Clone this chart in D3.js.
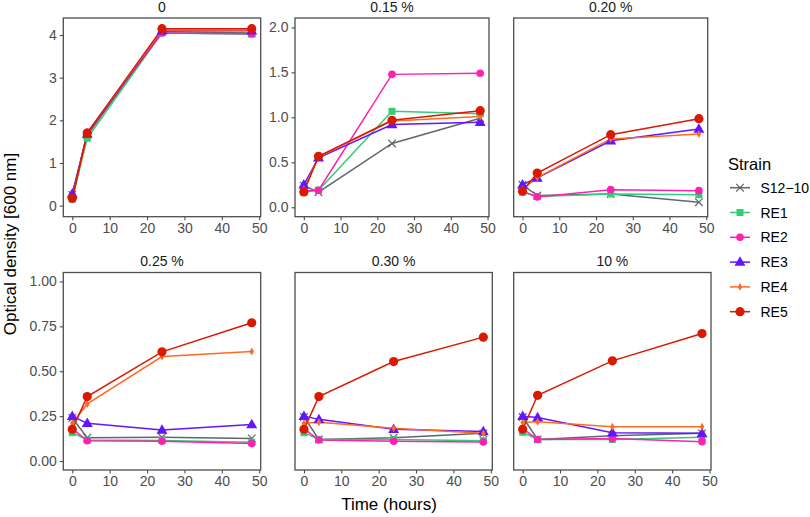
<!DOCTYPE html>
<html><head><meta charset="utf-8">
<script src="https://cdn.jsdelivr.net/npm/d3@7"></script>
<style>body{margin:0;background:#fff}svg{display:block}text{font-family:"Liberation Sans",Arial,sans-serif}</style>
</head><body>
<svg id="c" width="810" height="517"></svg>
<script>
const times = [0, 4, 24, 48];
const strains = ["S12\u221210", "RE1", "RE2", "RE3", "RE4", "RE5"];
const colors = ["#5f6868", "#33cc77", "#ff1fb0", "#6315ff", "#ff6a22", "#d91a00"];
const conditions = ["0", "0.15 %", "0.20 %", "0.25 %", "0.30 %", "10 %"];
// values per strain (rows: S12-10, RE1..RE5), columns: times
const od_0    = [[0.25,1.65,4.08,4.05],[0.15,1.58,4.05,4.02],[0.18,1.72,4.05,4.03],[0.28,1.68,4.10,4.10],[0.17,1.70,4.12,4.12],[0.17,1.70,4.15,4.15]];
const od_0_15 = [[0.24,0.167,0.71,0.99],[0.17,0.19,1.067,1.04],[0.18,0.19,1.478,1.49],[0.25,0.55,0.92,0.945],[0.20,0.56,0.96,1.01],[0.17,0.567,0.967,1.074]];
const od_0_20 = [[0.25,0.13,0.148,0.056],[0.17,0.12,0.148,0.14],[0.18,0.115,0.196,0.185],[0.25,0.326,0.74,0.87],[0.20,0.33,0.76,0.815],[0.178,0.38,0.807,0.985]];
const od_0_25 = [[0.24,0.13,0.132,0.126],[0.158,0.117,0.115,0.105],[0.18,0.113,0.11,0.098],[0.25,0.21,0.173,0.204],[0.21,0.318,0.582,0.61],[0.177,0.359,0.608,0.77]];
const od_0_30 = [[0.245,0.12,0.13,0.154],[0.158,0.12,0.12,0.113],[0.18,0.117,0.11,0.106],[0.25,0.232,0.177,0.164],[0.21,0.216,0.182,0.154],[0.177,0.359,0.554,0.69]];
const od_10   = [[0.245,0.12,0.141,0.154],[0.16,0.12,0.12,0.132],[0.18,0.12,0.125,0.108],[0.25,0.242,0.158,0.154],[0.214,0.219,0.191,0.191],[0.177,0.366,0.558,0.71]];
const seriesByCondition = [od_0, od_0_15, od_0_20, od_0_25, od_0_30, od_10];
const xTicks = [0, 10, 20, 30, 40, 50];
const yTicksTop1 = [0, 1, 2, 3, 4];
const yTicksTop = [0, 0.5, 1.0, 1.5, 2.0];
const yTicksBottom = [0, 0.25, 0.5, 0.75, 1.0];

const svg = d3.select("#c");
const panels = [
  {x0:63.3, x1:260.7, y0:18, y1:216.7, yd:[-0.26,4.40], yt:yTicksTop1, fmt:d3.format("d"), showY:true},
  {x0:295, x1:489, y0:18, y1:216.7, yd:[-0.105,2.105], yt:yTicksTop, fmt:d3.format(".1f"), showY:true},
  {x0:513.7, x1:707.7, y0:18, y1:216.7, yd:[-0.105,2.105], yt:yTicksTop, fmt:d3.format(".1f"), showY:false},
  {x0:63.3, x1:260.7, y0:272.5, y1:470, yd:[-0.05,1.05], yt:yTicksBottom, fmt:d3.format(".2f"), showY:true},
  {x0:295, x1:492.3, y0:272.5, y1:470, yd:[-0.05,1.05], yt:yTicksBottom, fmt:d3.format(".2f"), showY:false},
  {x0:513.7, x1:711, y0:272.5, y1:470, yd:[-0.05,1.05], yt:yTicksBottom, fmt:d3.format(".2f"), showY:false}
];

function marker(g, i, cx, cy, col) {
  if (i === 0) {
    const s = 3.8;
    g.append("path").attr("d", `M${cx-s},${cy-s}L${cx+s},${cy+s}M${cx-s},${cy+s}L${cx+s},${cy-s}`)
      .attr("stroke", col).attr("stroke-width", 1.2).attr("fill", "none");
  } else if (i === 1) {
    g.append("rect").attr("x", cx-3.5).attr("y", cy-3.5).attr("width", 7).attr("height", 7).attr("fill", col);
  } else if (i === 2) {
    g.append("circle").attr("cx", cx).attr("cy", cy).attr("r", 3.8).attr("fill", col);
  } else if (i === 3) {
    g.append("path").attr("d", d3.symbol(d3.symbolTriangle, 52)()).attr("transform", `translate(${cx},${cy+0.6})`).attr("fill", col);
  } else if (i === 4) {
    g.append("path").attr("d", d3.symbol(d3.symbolDiamond, 18)()).attr("transform", `translate(${cx},${cy})`).attr("fill", col);
  } else {
    g.append("circle").attr("cx", cx).attr("cy", cy).attr("r", 4.6).attr("fill", col);
  }
}

panels.forEach((p, k) => {
  const x = d3.scaleLinear().domain([-2.4, 50.4]).range([p.x0, p.x1]);
  const y = d3.scaleLinear().domain(p.yd).range([p.y1, p.y0]);
  const g = svg.append("g");
  const xa = g.append("g").attr("transform", `translate(0,${p.y1})`)
    .call(d3.axisBottom(x).tickValues(xTicks).tickSize(3.5).tickPadding(2.5));
  xa.select(".domain").remove();
  xa.selectAll("line").attr("stroke", "#4d4d4d").attr("stroke-width", 1.1);
  xa.selectAll("text").attr("fill", "#4d4d4d").style("font-size", "14px");
  if (p.showY) {
    const ya = g.append("g").attr("transform", `translate(${p.x0},0)`)
      .call(d3.axisLeft(y).tickValues(p.yt).tickFormat(p.fmt).tickSize(3.5).tickPadding(3));
    ya.select(".domain").remove();
    ya.selectAll("line").attr("stroke", "#4d4d4d").attr("stroke-width", 1.1);
    ya.selectAll("text").attr("fill", "#4d4d4d").style("font-size", "14px");
  }
  g.append("text").attr("x", (p.x0+p.x1)/2).attr("y", p.y0-6.5).attr("text-anchor", "middle")
    .style("font-size", "14px").attr("fill", "#1a1a1a").text(conditions[k]);
  const data = seriesByCondition[k];
  const line = d3.line().x((d, j) => x(times[j])).y(d => y(d));
  data.forEach((vals, i) => {
    g.append("path").attr("d", line(vals)).attr("fill", "none").attr("stroke", colors[i]).attr("stroke-width", 1.5);
  });
  data.forEach((vals, i) => {
    vals.forEach((v, j) => marker(g, i, x(times[j]), y(v), colors[i]));
  });
  g.append("rect").attr("x", p.x0).attr("y", p.y0).attr("width", p.x1-p.x0).attr("height", p.y1-p.y0)
    .attr("fill", "none").attr("stroke", "#4d4d4d").attr("stroke-width", 1.3);
});

svg.append("text").attr("x", 389).attr("y", 510).attr("text-anchor", "middle").style("font-size", "17px").attr("fill", "#000").text("Time (hours)");
svg.append("text").attr("transform", "translate(16,244) rotate(-90)").attr("text-anchor", "middle").style("font-size", "17px").attr("fill", "#000").text("Optical density [600 nm]");

const lg = svg.append("g");
lg.append("text").attr("x", 728).attr("y", 170).style("font-size", "16.5px").attr("fill", "#000").text("Strain");
strains.forEach((s, i) => {
  const cy = 187.7 + i*24.8;
  lg.append("line").attr("x1", 730).attr("x2", 750).attr("y1", cy).attr("y2", cy).attr("stroke", colors[i]).attr("stroke-width", 1.5);
  marker(lg, i, 740, cy, colors[i]);
  lg.append("text").attr("x", 760.5).attr("y", cy + 5).style("font-size", "14px").attr("fill", "#000").text(s);
});
</script>
</body></html>
